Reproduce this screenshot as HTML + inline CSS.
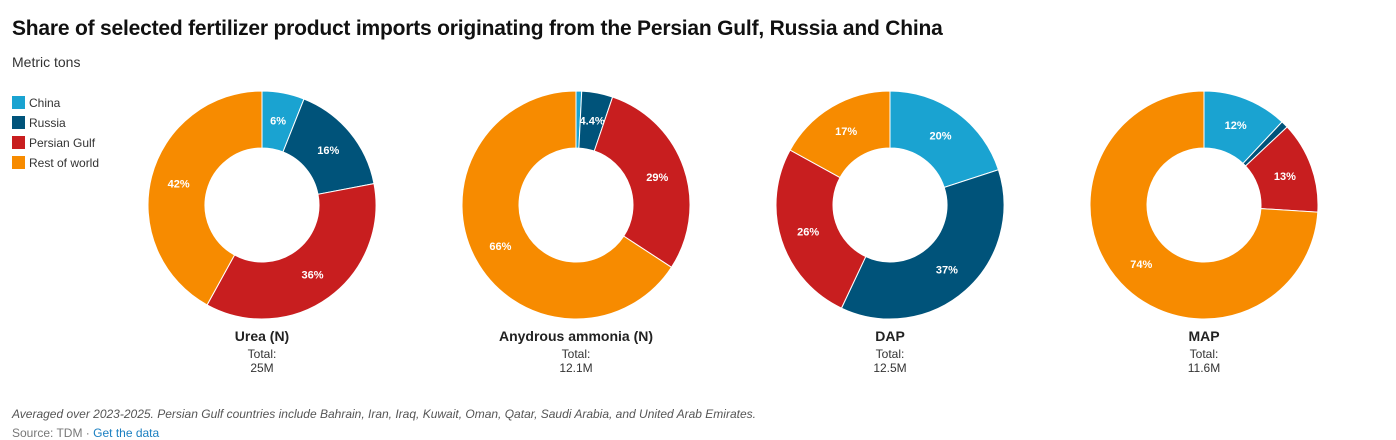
<!DOCTYPE html>
<html><head><meta charset="utf-8"><style>
body{margin:0;width:1396px;height:433px;background:#fff;font-family:"Liberation Sans",sans-serif;overflow:hidden;position:relative;color:#222}
h1{position:absolute;left:12px;top:17px;margin:0;font-size:21px;font-weight:bold;color:#111;letter-spacing:-0.2px}
.sub{position:absolute;left:12px;top:54px;font-size:14px;color:#333}
.leg{position:absolute;left:12px;font-size:12px;color:#333}
.leg span{display:inline-block;width:13px;height:13px;vertical-align:-2px;margin-right:4px}
.note{position:absolute;left:12px;top:407px;font-size:12px;font-style:italic;color:#555}
.src{position:absolute;left:12px;top:426px;font-size:12px;color:#777}
.src a{color:#1a7fc1;text-decoration:none}
.lab{position:absolute;width:300px;text-align:center;font-size:12px;color:#333;line-height:14px}
.lab b{display:block;font-size:14px;color:#222;margin-bottom:4px}
</style></head><body>
<h1>Share of selected fertilizer product imports originating from the Persian Gulf, Russia and China</h1>
<div class="sub">Metric tons</div>
<div class="leg" style="top:96px"><span style="background:#1aa3d1"></span>China</div>
<div class="leg" style="top:116px"><span style="background:#00537a"></span>Russia</div>
<div class="leg" style="top:136px"><span style="background:#c81e1f"></span>Persian Gulf</div>
<div class="leg" style="top:156px"><span style="background:#f78b00"></span>Rest of world</div>
<svg id="s" width="1396" height="433" style="position:absolute;left:0;top:0"></svg>
<div class="lab" style="left:112px;top:329px"><b>Urea (N)</b>Total:<br>25M</div>
<div class="lab" style="left:426px;top:329px"><b>Anydrous ammonia (N)</b>Total:<br>12.1M</div>
<div class="lab" style="left:740px;top:329px"><b>DAP</b>Total:<br>12.5M</div>
<div class="lab" style="left:1054px;top:329px"><b>MAP</b>Total:<br>11.6M</div>
<div class="note">Averaged over 2023-2025. Persian Gulf countries include Bahrain, Iran, Iraq, Kuwait, Oman, Qatar, Saudi Arabia, and United Arab Emirates.</div>
<div class="src">Source: TDM · <a>Get the data</a></div>
<script>
var cols=["#1aa3d1","#00537a","#c81e1f","#f78b00"];
var data=[[262,[6,16,36,42],["6%","16%","36%","42%"]],
[576,[0.8,4.4,29,65.8],["","4.4%","29%","66%"]],
[890,[20,37,26,17],["20%","37%","26%","17%"]],
[1204,[12,1,13,74],["12%","","13%","74%"]]];
var cy=205,R=114,r=57,h="";
data.forEach(function(d){
 var cx=d[0],a=0,tot=d[1].reduce(function(x,y){return x+y},0);
 d[1].forEach(function(v,i){
  var a0=a/tot*2*Math.PI,a1=(a+v)/tot*2*Math.PI;a+=v;
  var L=(a1-a0)>Math.PI?1:0;
  function p(rr,t){return (cx+rr*Math.sin(t)).toFixed(2)+","+(cy-rr*Math.cos(t)).toFixed(2)}
  h+='<path d="M'+p(R,a0)+' A'+R+','+R+' 0 '+L+' 1 '+p(R,a1)+' L'+p(r,a1)+' A'+r+','+r+' 0 '+L+' 0 '+p(r,a0)+'Z" fill="'+cols[i]+'" stroke="#fff" stroke-width="1"/>';
  if(d[2][i]){var m=(a0+a1)/2,rr=86;
   h+='<text x="'+(cx+rr*Math.sin(m)).toFixed(1)+'" y="'+(cy-rr*Math.cos(m)+4).toFixed(1)+'" text-anchor="middle" font-size="11" font-weight="bold" fill="#fff" font-family="Liberation Sans,sans-serif">'+d[2][i]+'</text>';}
 });
});
document.getElementById("s").innerHTML=h;
</script>
</body></html>
